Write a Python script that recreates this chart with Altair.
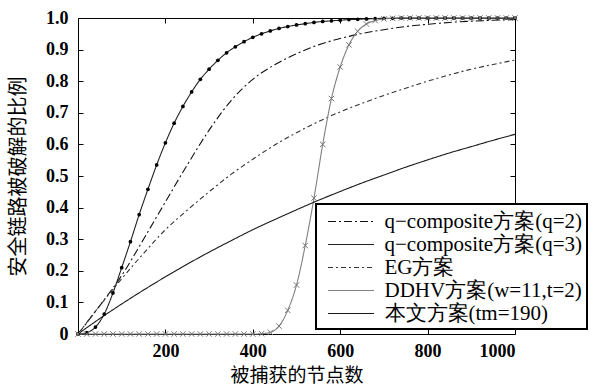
import altair as alt
import pandas as pd

# ---- data ----
x20 = list(range(0, 1001, 20))
x50 = list(range(0, 1001, 50))

q3_vals = [0.0, 0.004, 0.022, 0.063, 0.13, 0.21, 0.292, 0.378, 0.458, 0.535,
           0.605, 0.667, 0.72, 0.766, 0.806, 0.838, 0.866, 0.89, 0.909, 0.925,
           0.939, 0.95, 0.959, 0.967, 0.973, 0.978, 0.982, 0.986, 0.989, 0.991,
           0.993, 0.995, 0.996, 0.997, 0.998, 0.999, 0.999,
           1.0, 1.0, 1.0, 1.0, 1.0, 1.0, 1.0, 1.0, 1.0, 1.0, 1.0, 1.0, 1.0, 1.0]

ddhv_vals = [0.0] * 21 + [0.001, 0.005, 0.025, 0.075, 0.155, 0.28, 0.43, 0.6,
                          0.745, 0.845, 0.915, 0.958, 0.981, 0.992, 0.997, 0.999] + [1.0] * 14

q2_vals = [0.0, 0.09, 0.185, 0.3, 0.418, 0.535, 0.645, 0.738, 0.806, 0.852, 0.887,
           0.915, 0.935, 0.951, 0.963, 0.973, 0.98, 0.986, 0.99, 0.993, 0.995]

eg_vals = [0.0, 0.09, 0.175, 0.255, 0.33, 0.392, 0.45, 0.505, 0.553, 0.598, 0.637,
           0.672, 0.703, 0.73, 0.755, 0.778, 0.8, 0.82, 0.838, 0.853, 0.867]

ours_vals = [0.0, 0.049, 0.095, 0.139, 0.181, 0.221, 0.259, 0.295, 0.33, 0.362, 0.393,
             0.423, 0.451, 0.478, 0.503, 0.528, 0.551, 0.573, 0.593, 0.613, 0.632]

names = ["q\u2212composite方案(q=2)", "q\u2212composite方案(q=3)", "EG方案",
         "DDHV方案(w=11,t=2)", "本文方案(tm=190)"]
colors = ["#111111", "#222222", "#333333", "#808080", "#1a1a1a"]
dashes = [[8, 3, 2, 3], [1, 0], [5, 3, 2, 3], [1, 0], [1, 0]]

x_ticks = [200, 400, 600, 800, 1000]
y_ticks = [0, 0.1, 0.2, 0.3, 0.4, 0.5, 0.6, 0.7, 0.8, 0.9, 1.0]

rows = []
for xs, ys, nm in [(x50, q2_vals, names[0]), (x20, q3_vals, names[1]),
                   (x50, eg_vals, names[2]), (x20, ddhv_vals, names[3]),
                   (x50, ours_vals, names[4])]:
    for a, b in zip(xs, ys):
        rows.append({"x": a, "y": b, "series": nm})
df = pd.DataFrame(rows)
df_q3 = df[df.series == names[1]]
df_dd = df[df.series == names[3]]
df_ours = df[df.series == names[4]]

W, H = 437, 316
xs_scale = alt.Scale(domain=[0, 1000], nice=False, zero=False)
ys_scale = alt.Scale(domain=[0, 1], nice=False)

tick_font = "'Times New Roman', 'Liberation Serif', 'DejaVu Serif', serif"

x_axis = alt.Axis(values=x_ticks, format="d", domain=False, grid=False, ticks=True,
                  tickSize=5, offset=-5, tickColor="black", labelFont=tick_font,
                  labelFontSize=18, labelFontWeight="bold", labelColor="black",
                  labelPadding=8, title="被捕获的节点数", titleFont="Noto Sans CJK SC",
                  titleFontSize=19, titleFontWeight="normal", titleColor="black",
                  titleX=W / 2, titleY=46, titleBaseline="middle", titleAlign="center")
y_axis = alt.Axis(values=y_ticks,
                  labelExpr="datum.value == 0 ? '0' : format(datum.value, '.1f')",
                  domain=False, grid=False, ticks=True, tickSize=5, offset=-5,
                  tickColor="black", labelFont=tick_font, labelFontSize=18,
                  labelFontWeight="bold", labelColor="black", labelPadding=10,
                  title="安全链路被破解的比例", titleFont="Noto Sans CJK SC",
                  titleFontSize=20, titleFontWeight="normal", titleColor="black",
                  titleX=-65, titleY=H / 2, titleBaseline="middle", titleAlign="center",
                  titleAngle=270)

leg = alt.Legend(title=None, orient="none", legendX=238, legendY=186, padding=5,
                 rowPadding=0, symbolType="M-2,0L2,0", symbolSize=529,
                 symbolOffset=17.5, labelOffset=21, labelFont=tick_font,
                 labelFontSize=21, labelColor="black", strokeColor="black",
                 fillColor="white", symbolStrokeWidth=1.2, labelLimit=400)

lines = alt.Chart(df).mark_line(strokeWidth=1.1, interpolate="monotone").encode(
    x=alt.X("x:Q", scale=xs_scale, axis=x_axis),
    y=alt.Y("y:Q", scale=ys_scale, axis=y_axis),
    color=alt.Color("series:N", scale=alt.Scale(domain=names, range=colors), legend=leg),
    strokeDash=alt.StrokeDash("series:N", scale=alt.Scale(domain=names, range=dashes), legend=leg),
)

q3_pts = alt.Chart(df_q3).mark_point(shape="circle", filled=True, size=14,
                                     color="black", opacity=1).encode(
    x=alt.X("x:Q", scale=xs_scale, axis=None),
    y=alt.Y("y:Q", scale=ys_scale, axis=None),
)

dd_pts = alt.Chart(df_dd).mark_point(shape="M-1,-1L1,1M-1,1L1,-1", filled=False,
                                     size=30, color="#777777", strokeWidth=1,
                                     opacity=1).encode(
    x=alt.X("x:Q", scale=xs_scale, axis=None),
    y=alt.Y("y:Q", scale=ys_scale, axis=None),
)

mirror = alt.Chart(df_ours).mark_line(opacity=0).encode(
    x=alt.X("x:Q", scale=xs_scale,
            axis=alt.Axis(orient="top", values=x_ticks, labels=False, domain=False,
                          grid=False, ticks=True, tickSize=5, offset=-5,
                          tickColor="black", title=None)),
    y=alt.Y("y:Q", scale=ys_scale,
            axis=alt.Axis(orient="right", values=y_ticks[1:-1], labels=False,
                          domain=False, grid=False, ticks=True, tickSize=5,
                          offset=-5, tickColor="black", title=None)),
)

chart = alt.layer(lines, q3_pts, dd_pts, mirror).resolve_axis(
    x="independent", y="independent"
).properties(
    width=W, height=H,
    autosize=alt.AutoSizeParams(type="none"),
    padding={"left": 78, "top": 18, "right": 80, "bottom": 51},
).configure_view(stroke="black", strokeWidth=1).configure_legend(strokeWidth=2)

chart.save("out.html", embed_options={"renderer": "svg", "actions": False})
